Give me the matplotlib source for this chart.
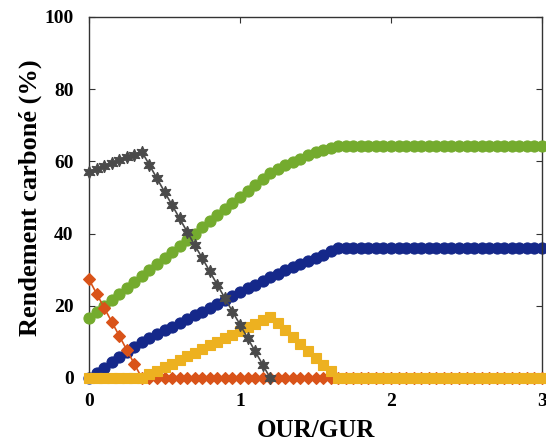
import numpy as np
import matplotlib
matplotlib.use("Agg")
import matplotlib.pyplot as plt

# OUR/GUR sampling grid (step 0.05)
x = np.linspace(0, 3, 61)

blue = [0.0, 1.4, 2.9, 4.3, 5.7, 7.1, 8.6, 10.0,
        11.0, 12.1, 13.2, 14.2, 15.3, 16.3, 17.4, 18.4, 19.5, 20.6, 21.6,
        22.7, 23.7, 24.8, 25.8, 26.9, 28.0,
        28.9, 29.8, 30.7, 31.6, 32.4, 33.3, 34.2, 35.1, 36.0] + [36.0] * 27

green = [16.5, 18.2, 19.9, 21.5, 23.2, 24.9, 26.6, 28.3,
         29.9, 31.6, 33.3, 35.0, 36.7, 38.3, 40.0, 41.7, 43.4, 45.1, 46.7,
         48.4, 50.1, 51.8, 53.5, 55.1, 56.8,
         57.9, 58.9, 59.9, 60.8, 61.7, 62.5, 63.2, 63.8, 64.3] + [64.3] * 27

red = [27.3, 23.4, 19.5, 15.6, 11.7, 7.8, 3.9, 0.0] + [0.0] * 53

yellow = [0.0] * 8 + [1.0, 2.0, 3.0, 4.0, 5.0, 6.0, 7.0, 8.0, 9.0, 10.0,
                      11.0, 12.0, 13.0, 14.0, 15.0, 16.0, 17.0,
                      15.1, 13.2, 11.3, 9.4, 7.5, 5.6, 3.7, 1.8, 0.0] + [0.0] * 27

gray = [57.1, 57.9, 58.7, 59.5, 60.3, 61.1, 61.9, 62.7,
        59.0, 55.3, 51.6, 47.9, 44.2, 40.5, 36.8, 33.2, 29.5, 25.8, 22.1,
        18.4, 14.8, 11.1, 7.4, 3.7, 0.0]

xticks = [0, 1, 2, 3]
yticks = [0, 20, 40, 60, 80, 100]

plt.rcParams['font.family'] = ['Liberation Serif', 'DejaVu Serif']
plt.rcParams['font.weight'] = 'bold'

fig = plt.figure(figsize=(5.46, 4.45), dpi=100)
ax = fig.add_axes([0.163, 0.1506, 0.8297, 0.8112])

star = (6, 1, 0)
kw = dict(lw=1.2, clip_on=False, markeredgewidth=0.8)
ax.plot(x, blue, color='#15288a', marker='o', ms=8, zorder=2, **kw)
ax.plot(x, green, color='#74ab2e', marker='o', ms=8, zorder=3, **kw)
ax.plot(x, red, color='#d95319', marker='D', ms=6, zorder=4, **kw)
ax.plot(x, yellow, color='#edb120', marker='s', ms=6.5, zorder=5, **kw)
ax.plot(x[:len(gray)], gray, color='#4a4a4a', marker=star, ms=9, zorder=6, **kw)

ax.set_xlim(0, 3)
ax.set_ylim(0, 100)
ax.set_xticks(xticks)
ax.set_yticks(yticks)
ax.tick_params(direction='in', top=True, right=True, length=4, width=0.8,
               labelsize=14, pad=11, color='#333333')
for s in ax.spines.values():
    s.set_linewidth(1.0)
    s.set_color('#333333')

ax.set_xlabel('OUR/GUR', fontsize=18, fontweight='bold', labelpad=6)
ax.set_ylabel('Rendement carboné (%)', fontsize=19, fontweight='bold', labelpad=2)

fig.savefig('out.png', dpi=100)
